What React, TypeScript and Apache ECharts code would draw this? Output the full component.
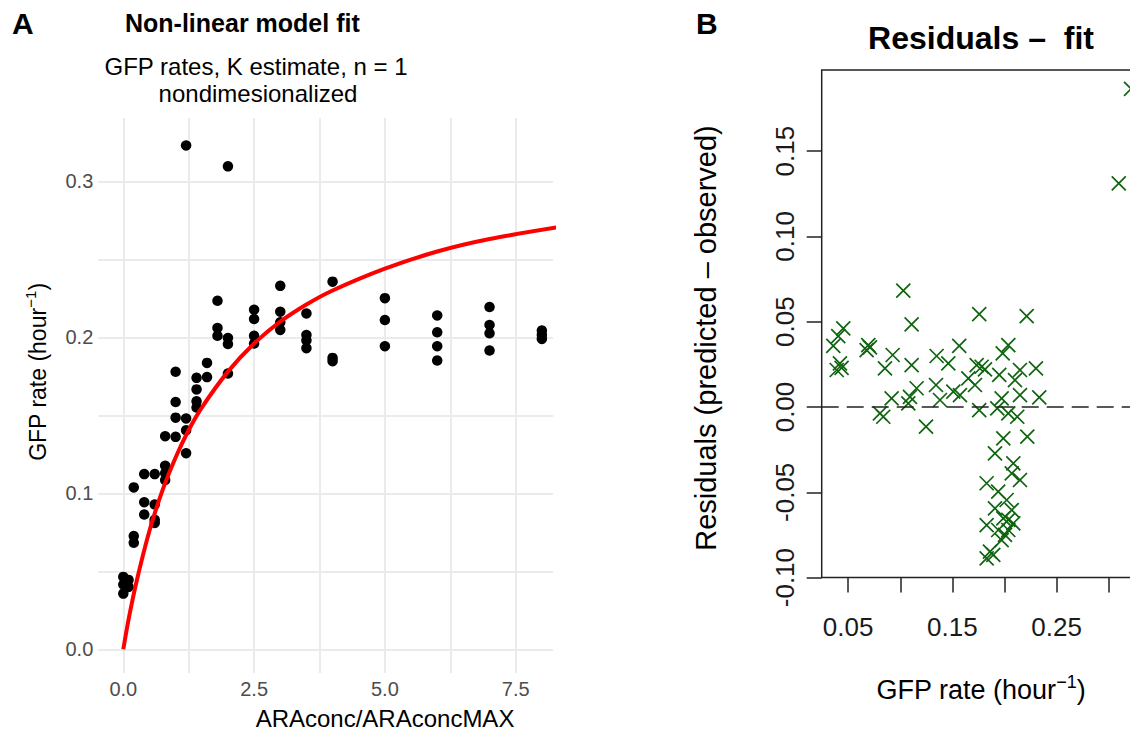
import React, { useEffect, useRef } from "react";
import * as echarts from "echarts";

// ---------- Panel A: observed GFP rates vs normalised arabinose ----------
const araConc = [
  0, 0, 0, 0.1, 0.1,
  0.2, 0.2, 0.2,
  0.4, 0.4, 0.4,
  0.6, 0.6, 0.6, 0.6,
  0.8, 0.8, 0.8, 0.8,
  1.0, 1.0, 1.0, 1.0,
  1.2, 1.2, 1.2, 1.2,
  1.4, 1.4, 1.4, 1.4,
  1.6, 1.6,
  1.8, 1.8, 1.8,
  2.0, 2.0, 2.0, 2.0,
  2.5, 2.5, 2.5, 2.5,
  3.0, 3.0, 3.0, 3.0,
  3.5, 3.5, 3.5, 3.5,
  4.0, 4.0, 4.0,
  5.0, 5.0, 5.0,
  6.0, 6.0, 6.0, 6.0,
  7.0, 7.0, 7.0, 7.0,
  8.0, 8.0, 8.0,
];
const gfpRate = [
  0.0464, 0.0415, 0.0357, 0.0445, 0.04,
  0.1038, 0.0726, 0.0683,
  0.1123, 0.0943, 0.0864,
  0.1123, 0.0928, 0.083, 0.081,
  0.1366, 0.1177, 0.113, 0.1085,
  0.1779, 0.1585, 0.1485, 0.1362,
  0.323, 0.148, 0.1404, 0.1257,
  0.174, 0.1666, 0.159, 0.155,
  0.1836, 0.1745,
  0.2234, 0.206, 0.201,
  0.3096, 0.1996, 0.1957, 0.1768,
  0.2177, 0.2117, 0.201, 0.196,
  0.233, 0.2164, 0.2096, 0.2047,
  0.2153, 0.2015, 0.198, 0.193,
  0.2357, 0.1868, 0.1847,
  0.2251, 0.2111, 0.1943,
  0.214, 0.2032, 0.1943, 0.1851,
  0.2194, 0.2079, 0.2026, 0.1915,
  0.2043, 0.2015, 0.199,
];

// fitted model curve
const fitConc = [0, 0.1, 0.25, 0.5, 0.75, 1, 1.25, 1.5, 2, 2.5, 3, 3.5, 4, 5, 6, 7, 8.3];
const fitRate = [0, 0.019, 0.043, 0.076, 0.102, 0.123, 0.1406, 0.155, 0.178, 0.196, 0.21, 0.221, 0.23, 0.244, 0.255, 0.263, 0.2705];

const aXTicks = [0, 1.25, 2.5, 3.75, 5, 6.25, 7.5];
const aXLabels = [0, 2.5, 5, 7.5];
const aYTicks = [0, 0.05, 0.1, 0.15, 0.2, 0.25, 0.3];
const aYLabels = [0, 0.1, 0.2, 0.3];

// ---------- Panel B: residuals ----------
const residRate = [
  0.0453, 0.0405, 0.0357, 0.0421, 0.039, 0.0437,
  0.0693, 0.0677, 0.0709,
  0.0927, 0.0853, 0.0917, 0.0805, 0.0837,
  0.1029, 0.1109, 0.1109, 0.1157, 0.1093, 0.1077,
  0.1247, 0.1349, 0.1343, 0.1381,
  0.1461, 0.1566, 0.1509, 0.1573,
  0.1653, 0.1717, 0.1733, 0.1781, 0.1813, 0.1758, 0.1758,
  0.195, 0.1983, 0.2037, 0.1973, 0.1931, 0.2037, 0.2123,
  0.2101, 0.2149, 0.2149, 0.2302, 0.2334, 0.2213,
  0.1989, 0.2219,
  0.1909, 0.2085, 0.207, 0.2149, 0.1829, 0.194, 0.2021, 0.1909, 0.207, 0.1989,
  0.1829, 0.2037, 0.2085, 0.194, 0.2037, 0.2005, 0.1973, 0.1861, 0.1829, 0.1893,
  0.3097, 0.3215,
];
const residual = [
  0.0461, 0.0416, 0.0358, 0.0256, 0.0217, 0.0229,
  0.0363, 0.0334, 0.035,
  0.0305, 0.0227, 0.0051, -0.0037, -0.0057,
  0.0682, 0.0485, 0.0246, 0.011, 0.006, 0.0021,
  -0.0115, 0.0299, 0.0129, 0.0041,
  0.0256, 0.0358, 0.009, 0.007,
  0.0168, 0.0129, 0.0246, 0.0236, 0.0221, 0.0545, -0.0018,
  0.0188, 0.0315, 0.0363, 0.0051, -0.0008, -0.0037, -0.0057,
  0.0158, 0.0217, 0.007, 0.0227, 0.0057, 0.0533,
  -0.0184, -0.0174,
  -0.0272, -0.033, -0.0389, -0.0428, -0.0447, -0.0496, -0.0545, -0.0594, -0.0604, -0.0653,
  -0.0692, -0.0662, -0.0682, -0.0721, -0.0721, -0.075, -0.078, -0.0848, -0.0887, -0.0867,
  0.1311, 0.1865,
];

const bXTicks = [0.05, 0.1, 0.15, 0.2, 0.25, 0.3];
const bXLabels = [0.05, 0.15, 0.25];
const bYTicks = [-0.1, -0.05, 0, 0.05, 0.1, 0.15];

const FONT = '"Liberation Sans", Arial, Helvetica, sans-serif';

export default function App() {
  const ref = useRef<HTMLDivElement>(null);

  useEffect(() => {
    if (!ref.current) return;
    const chart = echarts.init(ref.current, null, { renderer: "svg" });

    const obs = araConc.map((x, i) => [x, gfpRate[i]]);
    const fit = fitConc.map((x, i) => [x, fitRate[i]]);
    const res = residRate.map((x, i) => [x, residual[i]]);

    const gridLine = { show: true, lineStyle: { color: "#ebebeb", width: 2 } };

    chart.setOption({
      animation: false,
      backgroundColor: "#ffffff",
      textStyle: { fontFamily: FONT },
      grid: [
        { left: 98.3, top: 118, width: 454.7, height: 555 },
        {
          left: 821.7, top: 70.1, width: 322.9, height: 507.5,
          show: true, borderColor: "#222", borderWidth: 1.5, backgroundColor: "transparent",
        },
      ],
      xAxis: [
        {
          type: "value", gridIndex: 0, min: -0.478, max: 8.213,
          axisLine: { show: false, onZero: false },
          axisTick: { show: false, customValues: aXTicks },
          axisLabel: {
            customValues: aXLabels, formatter: (v: number) => v.toFixed(1),
            color: "#4d4d4d", fontSize: 20, margin: 6, fontFamily: FONT,
          },
          splitLine: gridLine,
        },
        {
          type: "value", gridIndex: 1, min: 0.0246, max: 0.3345,
          axisLine: { show: false, onZero: false },
          axisTick: { show: true, inside: false, length: 15, customValues: bXTicks, lineStyle: { color: "#222", width: 1.5 } },
          axisLabel: {
            customValues: bXLabels, formatter: (v: number) => v.toFixed(2),
            color: "#1a1a1a", fontSize: 26, margin: 36, fontFamily: FONT,
          },
          splitLine: { show: false },
        },
      ],
      yAxis: [
        {
          type: "value", gridIndex: 0, min: -0.0152, max: 0.3406,
          axisLine: { show: false, onZero: false },
          axisTick: { show: false, customValues: aYTicks },
          axisLabel: {
            customValues: aYLabels, formatter: (v: number) => v.toFixed(1),
            color: "#4d4d4d", fontSize: 20, margin: 5, fontFamily: FONT,
          },
          splitLine: gridLine,
        },
        {
          type: "value", gridIndex: 1, min: -0.1, max: 0.1975,
          axisLine: { show: false, onZero: false },
          axisTick: { show: true, inside: false, length: 15, customValues: bYTicks, lineStyle: { color: "#222", width: 1.5 } },
          axisLabel: {
            customValues: bYTicks, formatter: (v: number) => v.toFixed(2), rotate: 90,
            color: "#1a1a1a", fontSize: 26, margin: 24, fontFamily: FONT,
          },
          splitLine: { show: false },
        },
      ],
      series: [
        {
          type: "scatter", xAxisIndex: 0, yAxisIndex: 0, data: obs,
          symbol: "circle", symbolSize: 10.5, itemStyle: { color: "#000", opacity: 1 }, z: 2,
        },
        {
          type: "line", xAxisIndex: 0, yAxisIndex: 0, data: fit,
          smooth: 0.3, showSymbol: false, symbol: "none",
          lineStyle: { color: "#ff0000", width: 4 }, z: 3,
        },
        {
          type: "scatter", xAxisIndex: 1, yAxisIndex: 1, data: res,
          symbol: "path://M0,0L10,10M10,0L0,10", symbolSize: 14,
          itemStyle: { color: "none", borderColor: "#0f640f", borderWidth: 1.7, opacity: 1 },
          markLine: {
            silent: true, symbol: "none", label: { show: false },
            lineStyle: { type: [17, 8], color: "#222", width: 1.5 },
            data: [{ yAxis: 0 }],
          },
          z: 2,
        },
      ],
      graphic: [
        { type: "text", left: 12, top: 8, style: { text: "A", font: `bold 30px ${FONT}`, fill: "#000" } },
        { type: "text", left: 696, top: 8, style: { text: "B", font: `bold 30px ${FONT}`, fill: "#000" } },
        { type: "text", x: 125, y: 23, style: { text: "Non-linear model fit", font: `bold 25px ${FONT}`, fill: "#000", textVerticalAlign: "middle" } },
        { type: "text", x: 256, y: 66, style: { text: "GFP rates, K estimate, n = 1", font: `24px ${FONT}`, fill: "#000", textAlign: "center", textVerticalAlign: "middle" } },
        { type: "text", x: 258, y: 93, style: { text: "nondimesionalized", font: `24px ${FONT}`, fill: "#000", textAlign: "center", textVerticalAlign: "middle" } },
        {
          type: "text", x: 385, y: 718,
          style: { text: "ARAconc/ARAconcMAX", font: `24px ${FONT}`, fill: "#000", textAlign: "center", textVerticalAlign: "middle" },
        },
        {
          type: "text", x: 38, y: 372, rotation: Math.PI / 2,
          style: {
            text: "{a|GFP rate (hour}{s|−1}{a|)}",
            textAlign: "center", textVerticalAlign: "middle",
            rich: {
              a: { fontSize: 23, fontFamily: FONT, fill: "#000", lineHeight: 30 },
              s: { fontSize: 15, fontFamily: FONT, fill: "#000", verticalAlign: "top", lineHeight: 22 },
            },
          },
        },
        { type: "text", x: 981, y: 38, style: { text: "Residuals –  fit", font: `bold 32px ${FONT}`, fill: "#000", textAlign: "center", textVerticalAlign: "middle" } },
        {
          type: "text", x: 981, y: 690,
          style: {
            text: "{a|GFP rate (hour}{s|−1}{a|)}",
            textAlign: "center", textVerticalAlign: "middle",
            rich: {
              a: { fontSize: 27, fontFamily: FONT, fill: "#000", lineHeight: 34 },
              s: { fontSize: 18, fontFamily: FONT, fill: "#000", verticalAlign: "top", lineHeight: 24 },
            },
          },
        },
        {
          type: "text", x: 706, y: 338, rotation: Math.PI / 2,
          style: { text: "Residuals (predicted – observed)", font: `29px ${FONT}`, fill: "#000", textAlign: "center", textVerticalAlign: "middle" },
        },
      ],
    });

    return () => chart.dispose();
  }, []);

  return (
    <div style={{ position: "absolute", left: 0, top: 0, width: 1130, height: 731, overflow: "hidden" }}>
      <div ref={ref} style={{ width: 1160, height: 731 }} />
    </div>
  );
}
